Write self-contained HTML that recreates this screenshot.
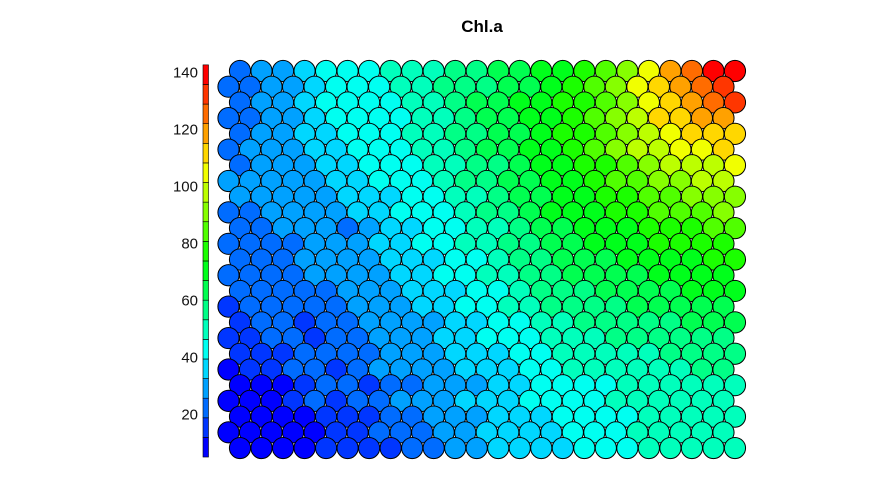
<!DOCTYPE html>
<html><head><meta charset="utf-8"><style>
body{margin:0;background:#fff;}
svg{display:block;font-family:"Liberation Sans",Arial,sans-serif;}
</style></head><body>
<svg id="chart" width="888" height="484" viewBox="0 0 888 484">
<text x="482" y="32" text-anchor="middle" font-size="17" font-weight="bold">Chl.a</text>
<g id="bar"></g>
<g id="cells"></g>
</svg>
<script>
const chlRows = [
[22,29,29,36,43,43,43,50,50,50,57,57,63,63,70,70,77,84,91,105,119,126,139,139],
[22,22,29,29,36,43,43,43,50,50,57,57,57,63,63,70,77,84,91,105,112,119,126,132],
[22,29,29,36,43,43,43,43,50,50,57,63,63,70,70,77,77,84,91,105,112,119,126,132],
[22,22,29,29,36,43,43,43,43,50,50,57,63,63,70,70,77,84,91,98,112,112,119,119],
[22,29,29,36,36,43,43,43,50,50,57,57,63,63,70,77,77,84,91,98,105,112,112,112],
[22,29,29,29,36,36,43,43,43,50,50,57,63,63,70,70,77,84,91,98,98,105,105,112],
[22,29,29,29,36,36,43,43,43,50,50,57,57,63,70,70,77,77,84,91,98,98,98,105],
[29,29,29,29,29,36,36,43,43,43,50,57,57,63,63,70,70,77,84,84,91,91,98,98],
[29,29,29,29,29,36,36,36,43,43,50,50,57,63,63,70,70,77,77,84,84,91,91,91],
[22,22,29,29,29,29,36,36,43,43,43,50,57,57,63,70,70,70,77,77,84,84,84,91],
[22,22,29,29,29,22,29,36,36,43,43,50,50,57,63,63,70,70,70,77,77,77,84,84],
[22,22,22,22,29,29,29,36,36,43,43,50,50,57,57,63,63,70,70,70,77,77,77,77],
[22,22,22,29,29,29,29,36,36,36,43,43,50,57,57,63,63,63,70,70,70,70,77,77],
[22,22,22,22,29,29,29,29,36,36,43,43,50,50,57,57,63,63,63,63,70,70,70,70],
[22,22,22,22,22,29,29,29,36,36,36,43,43,50,57,57,57,63,63,63,63,70,70,70],
[15,22,22,22,22,22,29,29,29,36,36,43,43,50,50,57,57,57,57,63,63,63,63,63],
[15,22,22,15,22,22,29,29,29,29,36,36,43,43,50,50,57,57,57,57,57,63,63,63],
[15,15,22,22,15,22,22,29,29,29,36,36,43,43,43,50,50,50,57,57,57,57,57,57],
[15,15,15,22,22,22,22,29,29,29,36,36,36,43,43,50,50,50,50,50,57,57,57,57],
[8,15,15,22,22,15,22,29,29,29,29,36,36,36,43,43,50,50,50,50,50,50,57,57],
[8,8,8,15,22,22,15,22,22,29,29,29,36,36,43,43,43,43,50,50,50,50,50,50],
[8,8,8,15,22,15,22,22,29,29,29,36,36,36,43,43,43,43,50,50,50,50,50,50],
[8,8,8,8,15,15,15,22,22,29,29,29,36,36,36,43,43,43,43,50,50,50,50,50],
[8,8,8,8,8,15,15,22,22,22,29,29,36,36,36,36,43,43,43,50,50,50,50,50],
[8,8,8,8,15,15,15,15,22,22,29,29,36,36,36,36,43,43,43,50,50,50,50,50]
];
const scaleTicks = [20,40,60,80,100,120,140];
const vMin = 4.9, vMax = 142.5, nBins = 20;

const NS = "http://www.w3.org/2000/svg";
function binOf(v){ let k = Math.floor((v - vMin) / (vMax - vMin) * nBins); return Math.max(0, Math.min(nBins-1, k)); }
function colorOf(k){ return "hsl(" + (240 * (1 - k/(nBins-1))).toFixed(1) + ",100%,50%)"; }
function yScale(v){ return 414 - (v - 20) * 2.85; }

const bar = document.getElementById("bar");
for (let k = 0; k < nBins; k++) {
  const v0 = vMin + k*(vMax-vMin)/nBins, v1 = vMin + (k+1)*(vMax-vMin)/nBins;
  const r = document.createElementNS(NS, "rect");
  r.setAttribute("x", 203); r.setAttribute("width", 5.5);
  r.setAttribute("y", yScale(v1)); r.setAttribute("height", yScale(v0) - yScale(v1));
  r.setAttribute("fill", colorOf(k)); r.setAttribute("stroke", "#000"); r.setAttribute("stroke-width", 0.6);
  
  
  bar.appendChild(r);
}
scaleTicks.forEach(t => {
  const tx = document.createElementNS(NS, "text");
  tx.setAttribute("x", 198); tx.setAttribute("y", yScale(t) + 5.5);
  tx.setAttribute("text-anchor", "end"); tx.setAttribute("font-size", "15"); tx.setAttribute("fill", "#111");
  tx.textContent = t;
  
  
  bar.appendChild(tx);
});

const cells = document.getElementById("cells");
const dx = 21.52, dy = 15.71;
chlRows.forEach((row, r) => {
  const x0 = (r % 2 === 0) ? 240 : 228.5;
  row.forEach((v, c) => {
    const ci = document.createElementNS(NS, "circle");
    ci.setAttribute("cx", (x0 + c*dx).toFixed(2));
    ci.setAttribute("cy", (71 + r*dy).toFixed(2));
    ci.setAttribute("r", 10.6);
    ci.setAttribute("fill", colorOf(binOf(v)));
    ci.setAttribute("stroke", "#000"); ci.setAttribute("stroke-width", 1);
    
    
    cells.appendChild(ci);
  });
});
</script>
</body></html>
